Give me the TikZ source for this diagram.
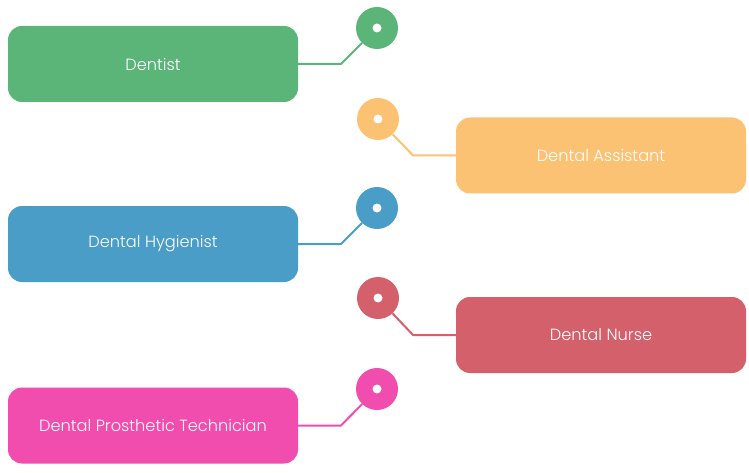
\documentclass[tikz,border=0pt]{standalone}
\usepackage{fontspec}
\setmainfont{Poppins}[UprightFont=* Light]
\definecolor{cgreen}{HTML}{5BB478}
\definecolor{corange}{HTML}{FBC274}
\definecolor{cblue}{HTML}{4A9DC7}
\definecolor{cred}{HTML}{D4606B}
\definecolor{cpink}{HTML}{F04DAE}
\begin{document}
\begin{tikzpicture}[x=1pt,y=-1pt,
  box/.style={rounded corners=14pt, minimum width=290pt, minimum height=76pt, inner sep=0pt,
    text=white, font=\fontsize{16.2}{19}\selectfont, fill=#1},
  dot/.style={circle, minimum size=42pt, inner sep=0pt, fill=#1},
  hole/.style={circle, minimum size=9pt, inner sep=0pt, fill=white},
  link/.style={draw=#1, line width=2pt}]
\useasboundingbox (0,0) rectangle (749,473);
% boxes
\node[box=cgreen] (dentist) at (153,64) {Dentist};
\node[box=corange] (assistant) at (601,155.5) {Dental Assistant};
\node[box=cblue] (hygienist) at (153,244) {Dental Hygienist};
\node[box=cred] (nurse) at (601,335) {Dental Nurse};
\node[box=cpink] (prosthetic) at (153,425.5) {Dental Prosthetic Technician};
% dots
\node[dot=cgreen] (c1) at (377,28) {};
\node[dot=corange] (c2) at (378,119) {};
\node[dot=cblue] (c3) at (377,208) {};
\node[dot=cred] (c4) at (378,298) {};
\node[dot=cpink] (c5) at (377,389) {};
\foreach \c in {c1,c2,c3,c4,c5} \node[hole] (h\c) at (\c) {};
% bends
\coordinate (b1) at (341,64);
\coordinate (b2) at (413,155.5);
\coordinate (b3) at (341,244);
\coordinate (b4) at (413,335);
\coordinate (b5) at (341,425.5);
% links
\draw[link=cgreen] (dentist.east) -- (b1) -- (c1);
\draw[link=corange] (c2) -- (b2) -- (assistant.west);
\draw[link=cblue] (hygienist.east) -- (b3) -- (c3);
\draw[link=cred] (c4) -- (b4) -- (nurse.west);
\draw[link=cpink] (prosthetic.east) -- (b5) -- (c5);
\end{tikzpicture}
\end{document}
